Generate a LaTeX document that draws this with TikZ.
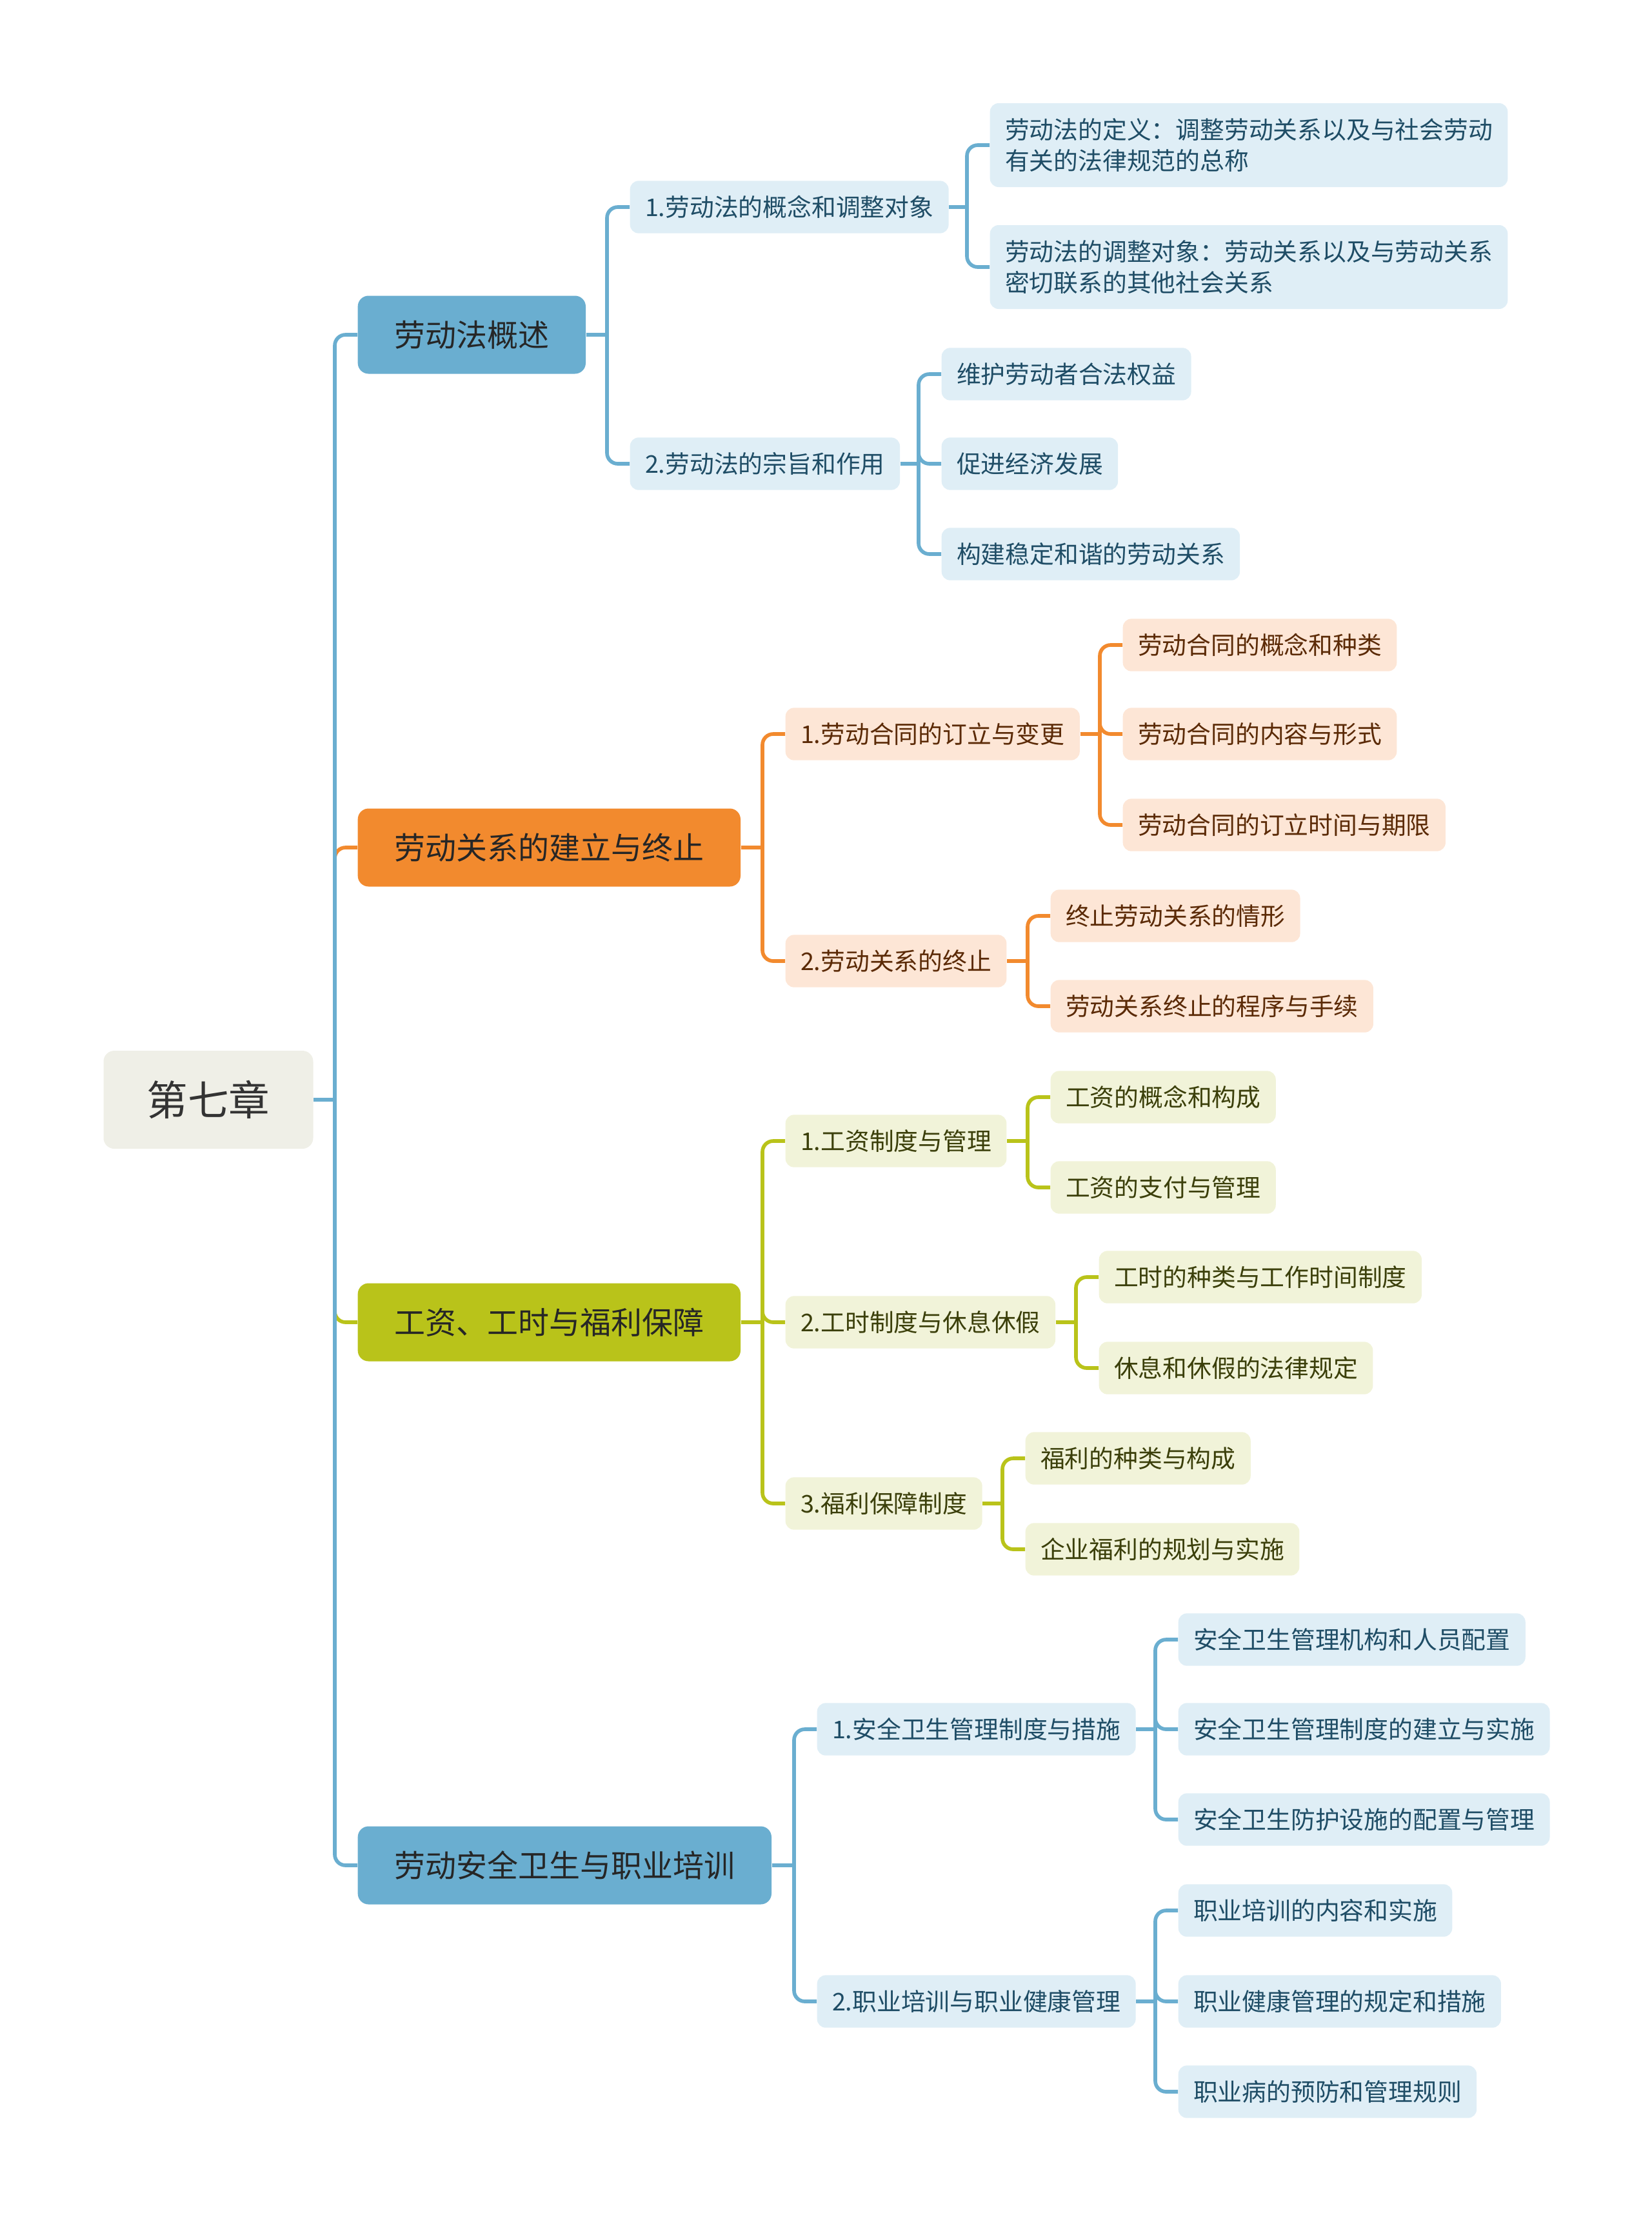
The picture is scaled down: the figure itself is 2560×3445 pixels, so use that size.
\documentclass[tikz,border=0pt]{standalone}
\usepackage{fontspec}
\setmainfont{Noto Sans CJK SC}
\usepackage{tikz}
\usetikzlibrary{positioning}

\definecolor{croot}{HTML}{EFEFE7}
\definecolor{cblue}{HTML}{6AAED0}
\definecolor{cblueL}{HTML}{DFEEF6}
\definecolor{cblueT}{HTML}{1F4D66}
\definecolor{corange}{HTML}{F28A2E}
\definecolor{corangeL}{HTML}{FDE6D6}
\definecolor{corangeT}{HTML}{5B2A06}
\definecolor{colive}{HTML}{B9C31A}
\definecolor{coliveL}{HTML}{F1F3D9}
\definecolor{coliveT}{HTML}{3B3F0A}

\begin{document}
\begin{tikzpicture}[
    x=0.3pt,
    y=-0.3pt,
    chapter/.style={
        rectangle,
        fill=croot,
        text=black!80,
        minimum width=97.5pt,
        minimum height=45.6pt,
        rounded corners=5pt,
        font=\fontsize{19.1}{23}\selectfont
    },
    topic/.style={
        rectangle,
        fill=c#1,
        text=black!85,
        minimum height=36.3pt,
        inner xsep=17pt,
        rounded corners=5pt,
        anchor=west,
        font=\fontsize{14.4}{17}\selectfont
    },
    sub/.style={
        rectangle,
        fill=c#1L,
        text=c#1T,
        minimum height=24.4pt,
        inner xsep=7pt,
        rounded corners=4pt,
        anchor=west,
        align=left,
        font=\fontsize{11.34}{14.5}\selectfont
    },
    link/.style={draw=c#1, line width=1.7pt, rounded corners=5pt}
]

\useasboundingbox (0,0) rectangle (2560,3445);

\node[chapter] (root) at (323,1705) {第七章};

\node[topic=blue] (law) at (554,519) {劳动法概述};
\node[topic=orange] (rel) at (554,1314) {劳动关系的建立与终止};
\node[topic=olive] (wage) at (554,2050) {工资、工时与福利保障};
\node[topic=blue] (safe) at (554,2892) {劳动安全卫生与职业培训};

\node[sub=blue] (law1) at (976,321) {1.劳动法的概念和调整对象};
\node[sub=blue] (law2) at (976,719) {2.劳动法的宗旨和作用};
\node[sub=blue, minimum height=39pt] (law11) at (1534,225) {劳动法的定义：调整劳动关系以及与社会劳动\\有关的法律规范的总称};
\node[sub=blue, minimum height=39pt] (law12) at (1534,414) {劳动法的调整对象：劳动关系以及与劳动关系\\密切联系的其他社会关系};
\node[sub=blue] (law21) at (1459,580) {维护劳动者合法权益};
\node[sub=blue] (law22) at (1459,719) {促进经济发展};
\node[sub=blue] (law23) at (1459,859) {构建稳定和谐的劳动关系};

\node[sub=orange] (rel1) at (1217,1138) {1.劳动合同的订立与变更};
\node[sub=orange] (rel2) at (1217,1490) {2.劳动关系的终止};
\node[sub=orange] (rel11) at (1740,1000) {劳动合同的概念和种类};
\node[sub=orange] (rel12) at (1740,1138) {劳动合同的内容与形式};
\node[sub=orange] (rel13) at (1740,1279) {劳动合同的订立时间与期限};
\node[sub=orange] (rel21) at (1628,1420) {终止劳动关系的情形};
\node[sub=orange] (rel22) at (1628,1560) {劳动关系终止的程序与手续};

\node[sub=olive] (wage1) at (1217,1769) {1.工资制度与管理};
\node[sub=olive] (wage2) at (1217,2050) {2.工时制度与休息休假};
\node[sub=olive] (wage3) at (1217,2331) {3.福利保障制度};
\node[sub=olive] (wage11) at (1628,1701) {工资的概念和构成};
\node[sub=olive] (wage12) at (1628,1841) {工资的支付与管理};
\node[sub=olive] (wage21) at (1703,1980) {工时的种类与工作时间制度};
\node[sub=olive] (wage22) at (1703,2121) {休息和休假的法律规定};
\node[sub=olive] (wage31) at (1589,2261) {福利的种类与构成};
\node[sub=olive] (wage32) at (1589,2402) {企业福利的规划与实施};

\node[sub=blue] (safe1) at (1266,2681) {1.安全卫生管理制度与措施};
\node[sub=blue] (safe2) at (1266,3103) {2.职业培训与职业健康管理};
\node[sub=blue] (safe11) at (1826,2542) {安全卫生管理机构和人员配置};
\node[sub=blue] (safe12) at (1826,2681) {安全卫生管理制度的建立与实施};
\node[sub=blue] (safe13) at (1826,2821) {安全卫生防护设施的配置与管理};
\node[sub=blue] (safe21) at (1826,2962) {职业培训的内容和实施};
\node[sub=blue] (safe22) at (1826,3103) {职业健康管理的规定和措施};
\node[sub=blue] (safe23) at (1826,3243) {职业病的预防和管理规则};

% branches: rounded elbow at the child, plain T at the parent
\foreach \p/\c in {root/rel,rel/rel1,rel/rel2,rel1/rel11,rel1/rel12,rel1/rel13,rel2/rel21,rel2/rel22} {
    \draw[link=orange] (\c.west) -- ++(-35,0) coordinate (e) -- (e |- \p.east);
    \draw[link=orange] (\p.east) -- (e |- \p.east);
}
\foreach \p/\c in {root/wage,wage/wage1,wage/wage2,wage/wage3,wage1/wage11,wage1/wage12,wage2/wage21,wage2/wage22,wage3/wage31,wage3/wage32} {
    \draw[link=olive] (\c.west) -- ++(-35,0) coordinate (e) -- (e |- \p.east);
    \draw[link=olive] (\p.east) -- (e |- \p.east);
}
\foreach \p/\c in {root/law,root/safe,law/law1,law/law2,law1/law11,law1/law12,law2/law21,law2/law22,law2/law23,safe/safe1,safe/safe2,safe1/safe11,safe1/safe12,safe1/safe13,safe2/safe21,safe2/safe22,safe2/safe23} {
    \draw[link=blue] (\c.west) -- ++(-35,0) coordinate (e) -- (e |- \p.east);
    \draw[link=blue] (\p.east) -- (e |- \p.east);
}

\end{tikzpicture}
\end{document}
